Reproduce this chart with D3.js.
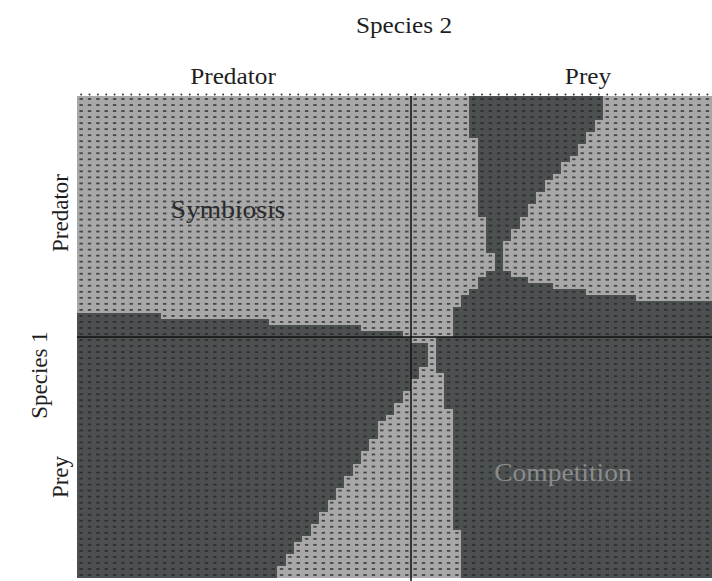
<!DOCTYPE html>
<html lang="en">
<head>
<meta charset="UTF-8">
<title>Species interaction map</title>
<style>
  body { margin: 0; background: #fff; }
  svg { display: block; }
  .lbl { font-family: "Liberation Serif", "Times New Roman", serif; fill: #1e1e1e; }
</style>
</head>
<body>
<svg width="712" height="581"></svg>
<script src="https://d3js.org/d3.v7.min.js"></script>
<script>
var nCols = 80, nRows = 80;
var species2Labels = ["Predator", "Prey"];
var species1Labels = ["Predator", "Prey"];
var outcomes = ["light", "dark"];

// light cells per row as [first col, last col]; everything else is dark
var topRuns = [
  [[0,46],[63,79]], [[0,46],[63,79]], [[0,46],[63,79]], [[0,46],[63,79]],
  [[0,46],[62,79]], [[0,46],[62,79]], [[0,46],[61,79]], [[0,47],[61,79]],
  [[0,47],[60,79]], [[0,47],[60,79]], [[0,47],[59,79]], [[0,47],[58,79]],
  [[0,47],[58,79]], [[0,47],[57,79]], [[0,47],[56,79]], [[0,47],[56,79]],
  [[0,47],[55,79]], [[0,47],[55,79]], [[0,47],[54,79]], [[0,47],[54,79]],
  [[0,48],[53,79]], [[0,48],[53,79]], [[0,48],[52,79]], [[0,48],[52,79]],
  [[0,48],[51,79]], [[0,48],[51,79]], [[0,49],[51,79]], [[0,49],[51,79]],
  [[0,49],[51,79]], [[0,48],[52,79]], [[0,47],[54,79]], [[0,47],[57,79]],
  [[0,46],[61,79]], [[0,45],[67,79]], [[0,45]], [[0,44]],
  [[10,44]], [[23,44]], [[34,44]], [[39,44]]
];
var bottomRuns = [
  [[40,42]], [[42,42]], [[42,42]], [[42,42]], [[42,42]],
  [[41,42]], [[41,43]], [[40,43]], [[40,43]], [[39,43]],
  [[39,43]], [[38,43]], [[38,44]], [[37,44]], [[36,44]],
  [[36,44]], [[36,44]], [[35,44]], [[35,44]], [[34,44]],
  [[34,44]], [[33,44]], [[33,44]], [[32,44]], [[32,44]],
  [[31,44]], [[31,44]], [[30,44]], [[30,44]], [[29,44]],
  [[29,44]], [[28,44]], [[28,45]], [[27,45]], [[26,45]],
  [[26,45]], [[25,45]], [[25,45]], [[24,45]], [[24,45]]
];

var svg = d3.select("svg");
var plotLeft = 77, plotTop = 96, cellW = 8.35, plotH = 482;

var x = d3.scaleBand().domain(d3.range(nCols)).range([plotLeft, plotLeft + cellW * nCols]);
var y = d3.scaleBand().domain(d3.range(nRows)).range([plotTop, plotTop + plotH]);
var fill = d3.scaleOrdinal().domain(outcomes).range(["#a8a8a8", "#4c5050"]);
var dash = d3.scaleOrdinal().domain(outcomes).range(["#353535", "#2a2c2c"]);

var runs = topRuns.concat(bottomRuns);
var cells = [];
runs.forEach(function(rowRuns, r) {
  d3.range(nCols).forEach(function(c) {
    var lit = rowRuns.some(function(run) { return c >= run[0] && c <= run[1]; });
    cells.push({row: r, col: c, v: lit ? "light" : "dark"});
  });
});

var g = svg.append("g");
g.selectAll("rect.cell")
  .data(cells)
  .enter().append("rect")
    .attr("class", "cell")
    .attr("x", function(d) { return x(d.col); })
    .attr("y", function(d) { return y(d.row); })
    .attr("width", x.bandwidth())
    .attr("height", y.bandwidth())
    .attr("fill", function(d) { return fill(d.v); })
    .attr("shape-rendering", "crispEdges");

// the little dash printed in every cell
g.selectAll("rect.dash")
  .data(cells)
  .enter().append("rect")
    .attr("class", "dash")
    .attr("x", function(d) { return x(d.col) + x.bandwidth() / 2 - 1.7; })
    .attr("y", function(d) { return y(d.row) + y.bandwidth() / 2 - 0.9; })
    .attr("width", 3.4)
    .attr("height", 1.8)
    .attr("fill", function(d) { return dash(d.v); })
    .attr("opacity", 0.85);

// dotted top edge
svg.append("g").selectAll("circle")
  .data(d3.range(nCols))
  .enter().append("circle")
    .attr("cx", function(c) { return x(c) + x.bandwidth() / 2; })
    .attr("cy", plotTop - 1.5)
    .attr("r", 1)
    .attr("fill", "#333");

// quadrant dividers
svg.append("line")
  .attr("x1", x(nCols / 2)).attr("x2", x(nCols / 2))
  .attr("y1", plotTop).attr("y2", 581)
  .attr("stroke", "#111").attr("stroke-width", 1.5);
svg.append("line")
  .attr("x1", plotLeft).attr("x2", 712)
  .attr("y1", y(nRows / 2)).attr("y2", y(nRows / 2))
  .attr("stroke", "#111").attr("stroke-width", 1.5);

// horizontal labels are a touch wider than the font, as in the scan
function hText(t, cx, by, size) {
  return svg.append("text").attr("class", "lbl")
    .attr("transform", "translate(" + cx + "," + by + ") scale(1.1,1)")
    .attr("text-anchor", "middle").attr("font-size", size)
    .text(t);
}

hText("Species 2", 404, 33, 23);

var topX = [233, 588];
species2Labels.forEach(function(t, i) { hText(t, topX[i], 84, 23); });

svg.append("text").attr("class", "lbl")
  .attr("transform", "translate(47,375) rotate(-90)")
  .attr("text-anchor", "middle").attr("font-size", 23)
  .text("Species 1");

var sideY = [213, 477];
species1Labels.forEach(function(t, i) {
  svg.append("text").attr("class", "lbl")
    .attr("transform", "translate(68," + sideY[i] + ") rotate(-90)")
    .attr("text-anchor", "middle").attr("font-size", 23)
    .text(t);
});

// region names
hText("Symbiosis", 228, 218, 25).style("fill", "#2a2a2a");
hText("Competition", 563, 481, 25).style("fill", "#8a8c8c");
</script>
</body>
</html>
